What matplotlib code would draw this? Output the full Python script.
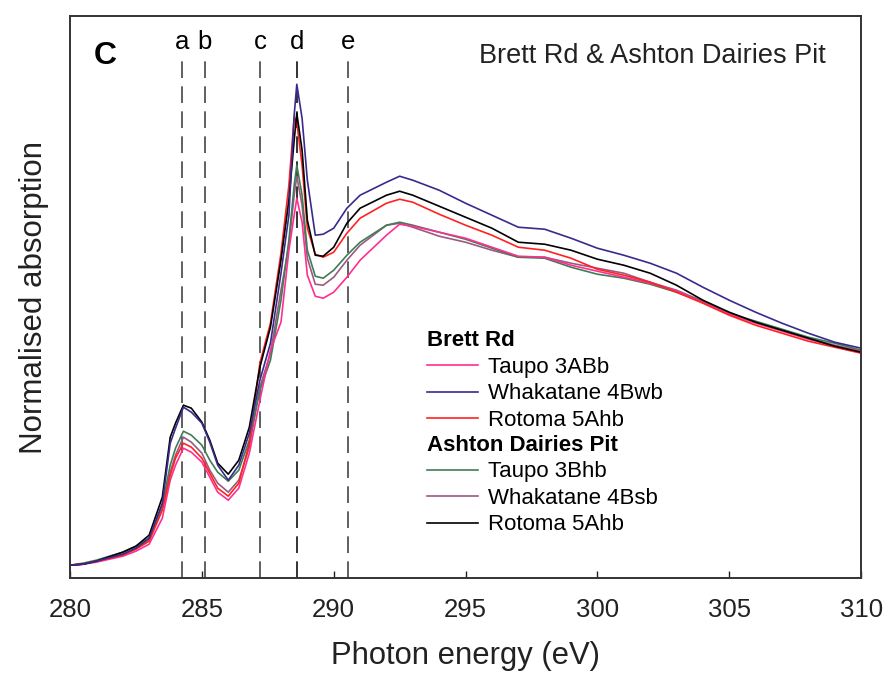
import matplotlib
matplotlib.use("Agg")
import matplotlib.pyplot as plt
from matplotlib.lines import Line2D

plt.rcParams["font.family"] = ["Liberation Sans", "DejaVu Sans"]

# photon energy (eV) and absorption (arbitrary units, pre-edge = 0)
energy = [280, 280.5, 281, 282, 282.5, 283, 283.5, 283.8, 284, 284.3, 284.6, 285, 285.3,
          285.6, 286, 286.4, 286.8, 287.2, 287.6, 288, 288.3, 288.5, 288.6, 288.8,
          289, 289.3, 289.6, 290, 290.5, 291, 292, 292.5, 293, 294, 295, 296, 297,
          298, 299, 300, 301, 302, 303, 304, 305, 306, 307, 308, 309, 310]

brett_taupo = [0, 1, 3, 9, 14, 21, 47, 85, 100, 117, 113, 103, 88, 73, 65, 77, 112, 165,
               215, 243, 315, 350, 367, 343, 290, 269, 267, 273, 288, 305, 330, 341,
               339, 333, 327, 318, 309, 308, 300, 294, 288, 282, 274, 263, 251, 242,
               234, 226, 219, 214]
brett_whakatane = [0, 1, 4, 11, 17, 27, 62, 122, 137, 158, 153, 142, 123, 100, 85, 100, 132,
                   185, 222, 292, 350, 450, 481, 447, 385, 330, 331, 337, 357, 370, 383,
                   389, 385, 375, 362, 350, 338, 336, 327, 317, 310, 302, 292, 278, 265,
                   253, 242, 232, 223, 217]
brett_rotoma = [0, 1, 4, 10, 16, 24, 55, 90, 107, 122, 118, 107, 92, 77, 69, 82, 122, 202,
                242, 312, 380, 448, 443, 400, 337, 311, 308, 313, 332, 347, 362, 366,
                363, 351, 340, 330, 318, 315, 307, 296, 290, 283, 273, 262, 250, 240,
                232, 224, 218, 212]
ashton_taupo = [0, 2, 5, 13, 19, 27, 60, 100, 117, 134, 130, 120, 105, 93, 84, 95, 125, 175,
                205, 265, 325, 380, 400, 370, 315, 289, 287, 295, 310, 323, 340, 343,
                340, 333, 326, 317, 308, 307, 298, 291, 287, 281, 273, 264, 252, 244,
                236, 228, 222, 215]
ashton_whakatane = [0, 1, 4, 11, 17, 25, 57, 93, 110, 128, 123, 112, 95, 82, 73, 85, 118,
                    178, 212, 275, 320, 370, 389, 360, 307, 281, 280, 288, 305, 320, 340,
                    342, 338, 329, 323, 315, 308, 308, 302, 297, 292, 283, 275, 264, 252,
                    243, 235, 227, 220, 214]
ashton_rotoma = [0, 1, 4, 13, 19, 30, 68, 128, 142, 160, 157, 143, 125, 102, 91, 105, 138,
                 198, 238, 305, 365, 425, 452, 415, 345, 310, 309, 318, 342, 357, 370,
                 374, 370, 359, 348, 337, 323, 321, 315, 306, 300, 292, 280, 265, 253,
                 243, 235, 227, 219, 213]

peak_labels = ["a", "b", "c", "d", "e"]
peak_energy = [284.25, 285.1, 287.2, 288.6, 290.55]

brett_names = ["Taupo 3ABb", "Whakatane 4Bwb", "Rotoma 5Ahb"]
ashton_names = ["Taupo 3Bhb", "Whakatane 4Bsb", "Rotoma 5Ahb"]
brett_colors = ["#ff2f92", "#3a2a8c", "#ff2222"]
ashton_colors = ["#3f7d55", "#9a5a82", "#000000"]

fig = plt.figure(figsize=(8.9, 6.77), dpi=100)
ax = fig.add_axes([0.0787, 0.146, 0.8888, 0.830])

# dashed reference lines
for lab, e in zip(peak_labels, peak_energy):
    col = "#111111" if lab == "d" else "#444444"
    ax.axvline(e, ymin=0, ymax=0.925, color=col, lw=1.2, dashes=(10, 5))
    ax.text(e, 0.955, lab, transform=ax.get_xaxis_transform(), ha="center",
            va="center", fontsize=18.5)

# spectra, blue and black on top
series = [
    (ashton_whakatane, ashton_colors[1]),
    (ashton_taupo, ashton_colors[0]),
    (brett_taupo, brett_colors[0]),
    (brett_rotoma, brett_colors[2]),
    (ashton_rotoma, ashton_colors[2]),
    (brett_whakatane, brett_colors[1]),
]
for vals, c in series:
    ax.plot(energy, vals, color=c, lw=1.2)

ax.set_xlim(280, 310)
ax.set_ylim(-13, 549)
ax.set_xticks(range(280, 311, 5))
ax.set_yticks([])
ax.tick_params(axis="x", direction="in", length=5, width=1, labelsize=18.5, pad=14,
               colors="#222222")
for sp in ax.spines.values():
    sp.set_linewidth(1.4)
    sp.set_color("#333333")

ax.set_xlabel("Photon energy (eV)", fontsize=22.3, labelpad=14, color="#222222")
ax.set_ylabel("Normalised absorption", fontsize=22.5, labelpad=15, color="#222222")

ax.text(0.03, 0.93, "C", transform=ax.transAxes, fontsize=23, fontweight="bold",
        va="center")
ax.text(0.955, 0.93, "Brett Rd & Ashton Dairies Pit", transform=ax.transAxes,
        fontsize=19.5, ha="right", va="center", color="#222222")

# two legend groups
h1 = [Line2D([], [], color=c, lw=1.2) for c in brett_colors]
h2 = [Line2D([], [], color=c, lw=1.2) for c in ashton_colors]
kw = dict(frameon=False, fontsize=16, alignment="left", handlelength=2.3,
          handletextpad=0.45, labelspacing=0.25, borderaxespad=0,
          title_fontproperties={"weight": "bold", "size": 16})
leg1 = ax.legend(h1, brett_names, title="Brett Rd", loc="upper left",
                 bbox_to_anchor=(0.440, 0.457), **kw)
ax.add_artist(leg1)
ax.legend(h2, ashton_names, title="Ashton Dairies Pit", loc="upper left",
          bbox_to_anchor=(0.440, 0.271), **kw)

fig.savefig("out.png", dpi=100)
